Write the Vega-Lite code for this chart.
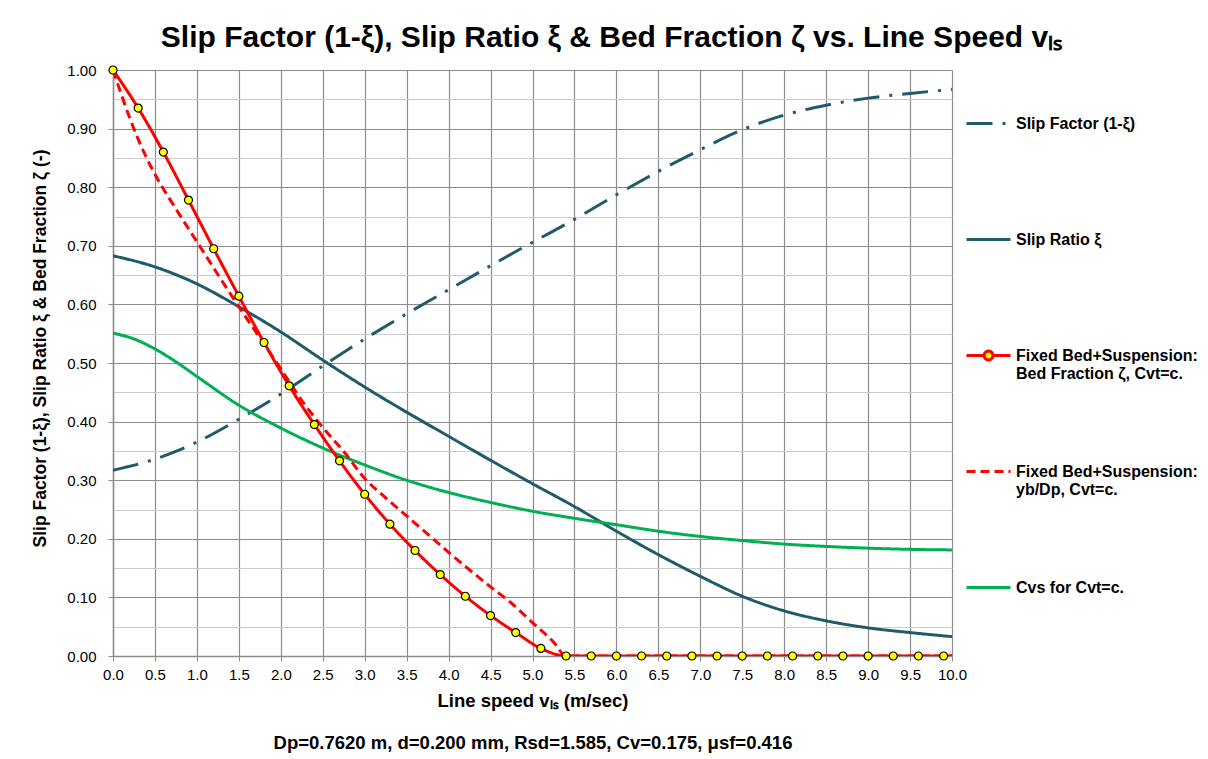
{
  "$schema": "https://vega.github.io/schema/vega-lite/v6.json",
  "autosize": {"type": "none"},
  "width": 839,
  "height": 586,
  "padding": {"left": 113, "top": 70, "right": 256, "bottom": 103},
  "background": "#ffffff",
  "config": {
    "font": "Liberation Sans",
    "view": {"stroke": null}
  },
  "title": {
    "text": "Slip Factor (1-ξ), Slip Ratio ξ & Bed Fraction ζ vs. Line Speed vₗₛ",
    "font": "Liberation Sans",
    "fontSize": 30,
    "fontWeight": "bold",
    "color": "#000000",
    "anchor": "middle",
    "frame": "group",
    "dx": 79,
    "offset": 10
  },
  "datasets": {
    "curves": [
      {"v": 0, "y": 0.317, "s": "sf"}, {"v": 0.5, "y": 0.336, "s": "sf"}, {"v": 1.0, "y": 0.365, "s": "sf"}, {"v": 1.5, "y": 0.404, "s": "sf"}, {"v": 2.0, "y": 0.447, "s": "sf"}, {"v": 2.5, "y": 0.495, "s": "sf"}, {"v": 3.0, "y": 0.541, "s": "sf"}, {"v": 3.5, "y": 0.584, "s": "sf"}, {"v": 4.0, "y": 0.625, "s": "sf"}, {"v": 4.5, "y": 0.666, "s": "sf"}, {"v": 5.0, "y": 0.706, "s": "sf"}, {"v": 5.5, "y": 0.745, "s": "sf"}, {"v": 6.0, "y": 0.787, "s": "sf"}, {"v": 6.5, "y": 0.827, "s": "sf"}, {"v": 7.0, "y": 0.864, "s": "sf"}, {"v": 7.5, "y": 0.898, "s": "sf"}, {"v": 8.0, "y": 0.923, "s": "sf"}, {"v": 8.5, "y": 0.940, "s": "sf"}, {"v": 9.0, "y": 0.952, "s": "sf"}, {"v": 9.5, "y": 0.960, "s": "sf"}, {"v": 10.0, "y": 0.967, "s": "sf"},
      {"v": 0, "y": 0.683, "s": "sr"}, {"v": 0.5, "y": 0.664, "s": "sr"}, {"v": 1.0, "y": 0.635, "s": "sr"}, {"v": 1.5, "y": 0.596, "s": "sr"}, {"v": 2.0, "y": 0.553, "s": "sr"}, {"v": 2.5, "y": 0.505, "s": "sr"}, {"v": 3.0, "y": 0.459, "s": "sr"}, {"v": 3.5, "y": 0.416, "s": "sr"}, {"v": 4.0, "y": 0.375, "s": "sr"}, {"v": 4.5, "y": 0.334, "s": "sr"}, {"v": 5.0, "y": 0.294, "s": "sr"}, {"v": 5.5, "y": 0.255, "s": "sr"}, {"v": 6.0, "y": 0.213, "s": "sr"}, {"v": 6.5, "y": 0.173, "s": "sr"}, {"v": 7.0, "y": 0.136, "s": "sr"}, {"v": 7.5, "y": 0.102, "s": "sr"}, {"v": 8.0, "y": 0.077, "s": "sr"}, {"v": 8.5, "y": 0.060, "s": "sr"}, {"v": 9.0, "y": 0.048, "s": "sr"}, {"v": 9.5, "y": 0.040, "s": "sr"}, {"v": 10.0, "y": 0.033, "s": "sr"},
      {"v": 0, "y": 0.551, "s": "cvs"}, {"v": 0.25, "y": 0.541, "s": "cvs"}, {"v": 0.5, "y": 0.524, "s": "cvs"}, {"v": 0.75, "y": 0.502, "s": "cvs"}, {"v": 1.0, "y": 0.477, "s": "cvs"}, {"v": 1.5, "y": 0.428, "s": "cvs"}, {"v": 2.0, "y": 0.389, "s": "cvs"}, {"v": 2.5, "y": 0.355, "s": "cvs"}, {"v": 3.0, "y": 0.326, "s": "cvs"}, {"v": 3.5, "y": 0.300, "s": "cvs"}, {"v": 4.0, "y": 0.279, "s": "cvs"}, {"v": 4.5, "y": 0.262, "s": "cvs"}, {"v": 5.0, "y": 0.247, "s": "cvs"}, {"v": 5.5, "y": 0.235, "s": "cvs"}, {"v": 6.0, "y": 0.224, "s": "cvs"}, {"v": 6.5, "y": 0.213, "s": "cvs"}, {"v": 7.0, "y": 0.204, "s": "cvs"}, {"v": 7.5, "y": 0.197, "s": "cvs"}, {"v": 8.0, "y": 0.191, "s": "cvs"}, {"v": 8.5, "y": 0.187, "s": "cvs"}, {"v": 9.0, "y": 0.184, "s": "cvs"}, {"v": 9.5, "y": 0.182, "s": "cvs"}, {"v": 10.0, "y": 0.181, "s": "cvs"},
      {"v": 0, "y": 1.0, "s": "yb"}, {"v": 0.1, "y": 0.958, "s": "yb"}, {"v": 0.2, "y": 0.918, "s": "yb"}, {"v": 0.3, "y": 0.882, "s": "yb"}, {"v": 0.4, "y": 0.850, "s": "yb"}, {"v": 0.5, "y": 0.822, "s": "yb"}, {"v": 0.75, "y": 0.763, "s": "yb"}, {"v": 1.0, "y": 0.707, "s": "yb"}, {"v": 1.25, "y": 0.651, "s": "yb"}, {"v": 1.5, "y": 0.596, "s": "yb"}, {"v": 1.75, "y": 0.543, "s": "yb"}, {"v": 2.0, "y": 0.490, "s": "yb"}, {"v": 2.25, "y": 0.436, "s": "yb"}, {"v": 2.5, "y": 0.390, "s": "yb"}, {"v": 2.75, "y": 0.349, "s": "yb"}, {"v": 3.0, "y": 0.303, "s": "yb"}, {"v": 3.25, "y": 0.270, "s": "yb"}, {"v": 3.5, "y": 0.239, "s": "yb"}, {"v": 3.75, "y": 0.208, "s": "yb"}, {"v": 4.0, "y": 0.177, "s": "yb"}, {"v": 4.25, "y": 0.147, "s": "yb"}, {"v": 4.5, "y": 0.118, "s": "yb"}, {"v": 4.75, "y": 0.090, "s": "yb"}, {"v": 5.0, "y": 0.057, "s": "yb"}, {"v": 5.25, "y": 0.024, "s": "yb"}, {"v": 5.4, "y": 0.0, "s": "yb"}, {"v": 10.0, "y": 0.0, "s": "yb"},
      {"v": 0, "y": 1.0, "s": "bf"}, {"v": 0.3, "y": 0.935, "s": "bf"}, {"v": 0.6, "y": 0.860, "s": "bf"}, {"v": 0.9, "y": 0.778, "s": "bf"}, {"v": 1.2, "y": 0.695, "s": "bf"}, {"v": 1.5, "y": 0.614, "s": "bf"}, {"v": 1.8, "y": 0.535, "s": "bf"}, {"v": 2.1, "y": 0.461, "s": "bf"}, {"v": 2.4, "y": 0.395, "s": "bf"}, {"v": 2.7, "y": 0.333, "s": "bf"}, {"v": 3.0, "y": 0.276, "s": "bf"}, {"v": 3.3, "y": 0.225, "s": "bf"}, {"v": 3.6, "y": 0.180, "s": "bf"}, {"v": 3.9, "y": 0.139, "s": "bf"}, {"v": 4.2, "y": 0.102, "s": "bf"}, {"v": 4.5, "y": 0.069, "s": "bf"}, {"v": 4.8, "y": 0.040, "s": "bf"}, {"v": 5.1, "y": 0.013, "s": "bf"}, {"v": 5.4, "y": 0.0, "s": "bf"}, {"v": 5.7, "y": 0.0, "s": "bf"}, {"v": 6.0, "y": 0.0, "s": "bf"}, {"v": 6.3, "y": 0.0, "s": "bf"}, {"v": 6.6, "y": 0.0, "s": "bf"}, {"v": 6.9, "y": 0.0, "s": "bf"}, {"v": 7.2, "y": 0.0, "s": "bf"}, {"v": 7.5, "y": 0.0, "s": "bf"}, {"v": 7.8, "y": 0.0, "s": "bf"}, {"v": 8.1, "y": 0.0, "s": "bf"}, {"v": 8.4, "y": 0.0, "s": "bf"}, {"v": 8.7, "y": 0.0, "s": "bf"}, {"v": 9.0, "y": 0.0, "s": "bf"}, {"v": 9.3, "y": 0.0, "s": "bf"}, {"v": 9.6, "y": 0.0, "s": "bf"}, {"v": 9.9, "y": 0.0, "s": "bf"}, {"v": 10.0, "y": 0.0, "s": "bf"}
    ]
  },
  "data": {"name": "curves"},
  "encoding": {
    "x": {
      "field": "v",
      "type": "quantitative",
      "scale": {"domain": [0, 10], "nice": false, "zero": false},
      "axis": {
        "values": [0, 0.5, 1, 1.5, 2, 2.5, 3, 3.5, 4, 4.5, 5, 5.5, 6, 6.5, 7, 7.5, 8, 8.5, 9, 9.5, 10],
        "format": ".1f",
        "title": ["Line speed vₗₛ (m/sec)", "Dp=0.7620 m, d=0.200 mm, Rsd=1.585, Cv=0.175, μsf=0.416"],
        "titleFont": "Liberation Sans",
        "titleFontSize": 18.5,
        "titleFontWeight": "bold",
        "titleColor": "#000000",
        "titleLineHeight": 42,
        "titlePadding": 9,
        "labelFont": "Liberation Sans",
        "labelFontSize": 15,
        "labelColor": "#000000",
        "labelPadding": 6,
        "labelFlush": false,
        "tickSize": 5,
        "tickColor": "#8c8c8c",
        "domainColor": "#8c8c8c",
        "domainWidth": 1.5,
        "grid": true,
        "gridColor": "#8c8c8c",
        "gridWidth": 1.2
      }
    },
    "y": {
      "field": "y",
      "type": "quantitative",
      "scale": {"domain": [0, 1], "nice": false},
      "axis": {
        "values": [0, 0.05, 0.1, 0.15, 0.2, 0.25, 0.3, 0.35, 0.4, 0.45, 0.5, 0.55, 0.6, 0.65, 0.7, 0.75, 0.8, 0.85, 0.9, 0.95, 1.0],
        "labelExpr": "round(datum.value * 100) % 10 === 0 ? format(datum.value, '.2f') : ''",
        "title": "Slip Factor (1-ξ), Slip Ratio ξ & Bed Fraction ζ (-)",
        "titleFont": "Liberation Sans",
        "titleFontSize": 17.5,
        "titleFontWeight": "bold",
        "titleColor": "#000000",
        "titlePadding": 17,
        "titleY": 278,
        "labelFont": "Liberation Sans",
        "labelFontSize": 15,
        "labelColor": "#000000",
        "labelPadding": 12,
        "labelFlush": false,
        "tickSize": 5,
        "tickColor": {"condition": {"test": "round(datum.value * 100) % 10 === 0", "value": "#8c8c8c"}, "value": "transparent"},
        "domainColor": "#8c8c8c",
        "domainWidth": 1.5,
        "grid": true,
        "gridColor": {"condition": {"test": "round(datum.value * 100) % 10 === 0", "value": "#8c8c8c"}, "value": "#cccccc"},
        "gridWidth": 1.2
      }
    }
  },
  "layer": [
    {
      "mark": {"type": "line", "interpolate": "monotone", "strokeWidth": 3, "clip": true},
      "encoding": {
        "color": {
          "field": "s",
          "type": "nominal",
          "scale": {"domain": ["sf", "sr", "bf", "yb", "cvs"], "range": ["#215A6A", "#215A6A", "#FF0000", "#FF0000", "#00B050"]},
          "legend": {
            "title": null,
            "orient": "none",
            "legendX": 852,
            "legendY": 30,
            "symbolType": "stroke",
            "symbolSize": 1936,
            "symbolStrokeWidth": 3,
            "labelFont": "Liberation Sans",
            "labelFontSize": 16,
            "labelFontWeight": "bold",
            "labelColor": "#000000",
            "labelOffset": 4,
            "labelLimit": 300,
            "rowPadding": 66,
            "labelExpr": "datum.value === 'sf' ? ['Slip Factor (1-ξ)', ' '] : datum.value === 'sr' ? ['Slip Ratio ξ', ' '] : datum.value === 'bf' ? ['Fixed Bed+Suspension:', 'Bed Fraction ζ, Cvt=c.'] : datum.value === 'yb' ? ['Fixed Bed+Suspension:', 'yb/Dp, Cvt=c.'] : ['Cvs for Cvt=c.', ' ']",
            "encode": {
              "symbols": {
                "update": {
                  "shape": {"signal": "datum.value === 'bf' ? 'M-1,0L-0.2,0M0.2,0L1,0M0.2,0A0.2,0.2,0,1,1,-0.2,0A0.2,0.2,0,1,1,0.2,0' : 'stroke'"},
                  "fill": {"signal": "datum.value === 'bf' ? '#FFFF00' : 'transparent'"}
                }
              },
              "labels": {
                "update": {
                  "lineHeight": {"value": 18}
                }
              }
            }
          }
        },
        "strokeDash": {
          "field": "s",
          "type": "nominal",
          "scale": {"domain": ["sf", "sr", "bf", "yb", "cvs"], "range": [[26, 10, 3, 10], [1, 0], [1, 0], [9, 5], [1, 0]]}
        }
      }
    },
    {
      "transform": [{"filter": "datum.s === 'bf' && datum.v < 9.95"}],
      "mark": {"type": "point", "filled": true, "fill": "#FFFF00", "stroke": "#000000", "strokeWidth": 1.2, "size": 64, "opacity": 1, "clip": false}
    }
  ]
}
